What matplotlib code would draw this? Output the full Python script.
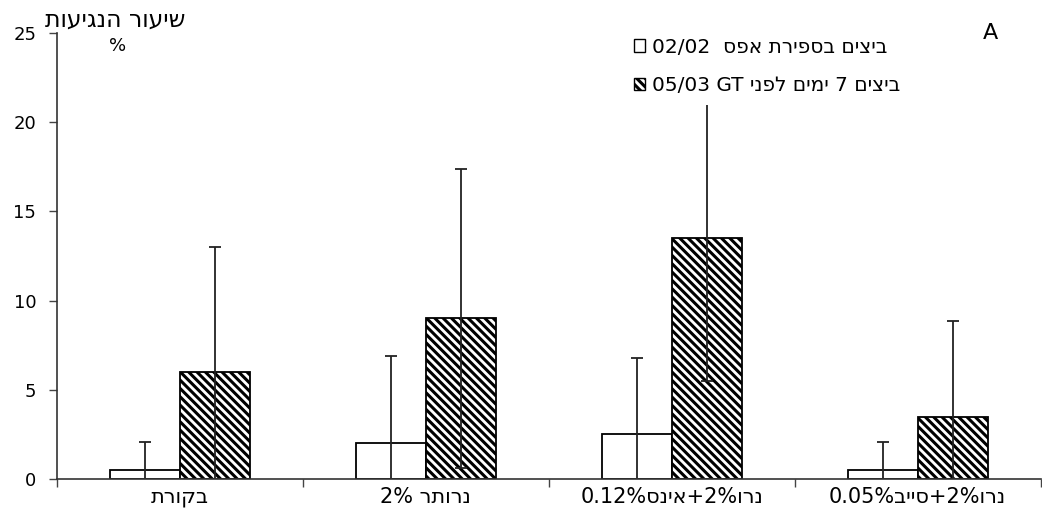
import matplotlib
matplotlib.use('Agg')
import matplotlib.pyplot as plt
from matplotlib.patches import Patch
import numpy as np

# Hebrew strings are kept in visual (left-to-right) order,
# since matplotlib does not reorder right-to-left text
categories = ['תרוקב', '2% רתורנ', '0.12%סניא+2%ורנ', '0.05%בייס+2%ורנ']
series_names = ['02/02  ספא תריפסב םיציב', '05/03 GT ינפל םימי 7 םיציב']

zero_count = [0.5, 2.0, 2.5, 0.5]
zero_count_err = [1.6, 4.9, 4.3, 1.6]
before_gt = [6.0, 9.0, 13.5, 3.5]
before_gt_err = [7.0, 8.4, 8.0, 5.35]

y_label = 'תועיגנה רועיש'
panel = 'A'

plt.rcParams['font.family'] = ['DejaVu Sans']
plt.rcParams['hatch.linewidth'] = 2.2

fig = plt.figure(figsize=(10.42, 5.26), dpi=100)
ax = fig.add_axes([0.0547, 0.0894, 0.944, 0.8478])

x = np.arange(len(categories))
w = 0.285
hatch = '\\\\\\\\'
ax.bar(x - w / 2, zero_count, w, facecolor='white', edgecolor='black', linewidth=1.3)
ax.bar(x + w / 2, before_gt, w, facecolor='white', edgecolor='black', linewidth=1.3, hatch=hatch)
ax.errorbar(x - w / 2, zero_count, yerr=zero_count_err, fmt='none', ecolor='#222222',
            elinewidth=1.3, capsize=4, capthick=1.3)
ax.errorbar(x + w / 2, before_gt, yerr=before_gt_err, fmt='none', ecolor='#222222',
            elinewidth=1.3, capsize=4, capthick=1.3)

ax.set_xlim(-0.5, len(categories) - 0.5)
ax.set_ylim(0, 25)
ax.set_yticks([0, 5, 10, 15, 20, 25])
ax.tick_params(axis='y', labelsize=13, length=6, width=1, color='#444444', pad=9)
ax.set_xticks(x)
ax.set_xticklabels(categories, fontsize=15)
ax.tick_params(axis='x', length=0, pad=6)
ax.set_xticks(np.arange(len(categories) + 1) - 0.5, minor=True)
ax.tick_params(axis='x', which='minor', length=6, width=1, color='#444444')
for s in ['top', 'right']:
    ax.spines[s].set_visible(False)
for s in ['left', 'bottom']:
    ax.spines[s].set_color('#333333')
    ax.spines[s].set_linewidth(1.2)

handles = [Patch(facecolor='white', edgecolor='black', linewidth=1),
           Patch(facecolor='white', edgecolor='black', linewidth=1, hatch=hatch)]
leg = ax.legend(handles, series_names, loc='upper left', bbox_to_anchor=(0.566, 1.035),
                fontsize=14.5, frameon=True, facecolor='white', edgecolor='none',
                framealpha=1, handlelength=0.55, handleheight=0.55, handletextpad=0.35,
                labelspacing=0.95, borderpad=0.5)
leg.set_zorder(5)

fig.text(0.111, 0.963, y_label, fontsize=17, ha='center', va='center')
fig.text(0.113, 0.912, '%', fontsize=13, ha='center', va='center')
fig.text(0.951, 0.937, panel, fontsize=16, ha='center', va='center')

fig.savefig('out.png', dpi=100)
